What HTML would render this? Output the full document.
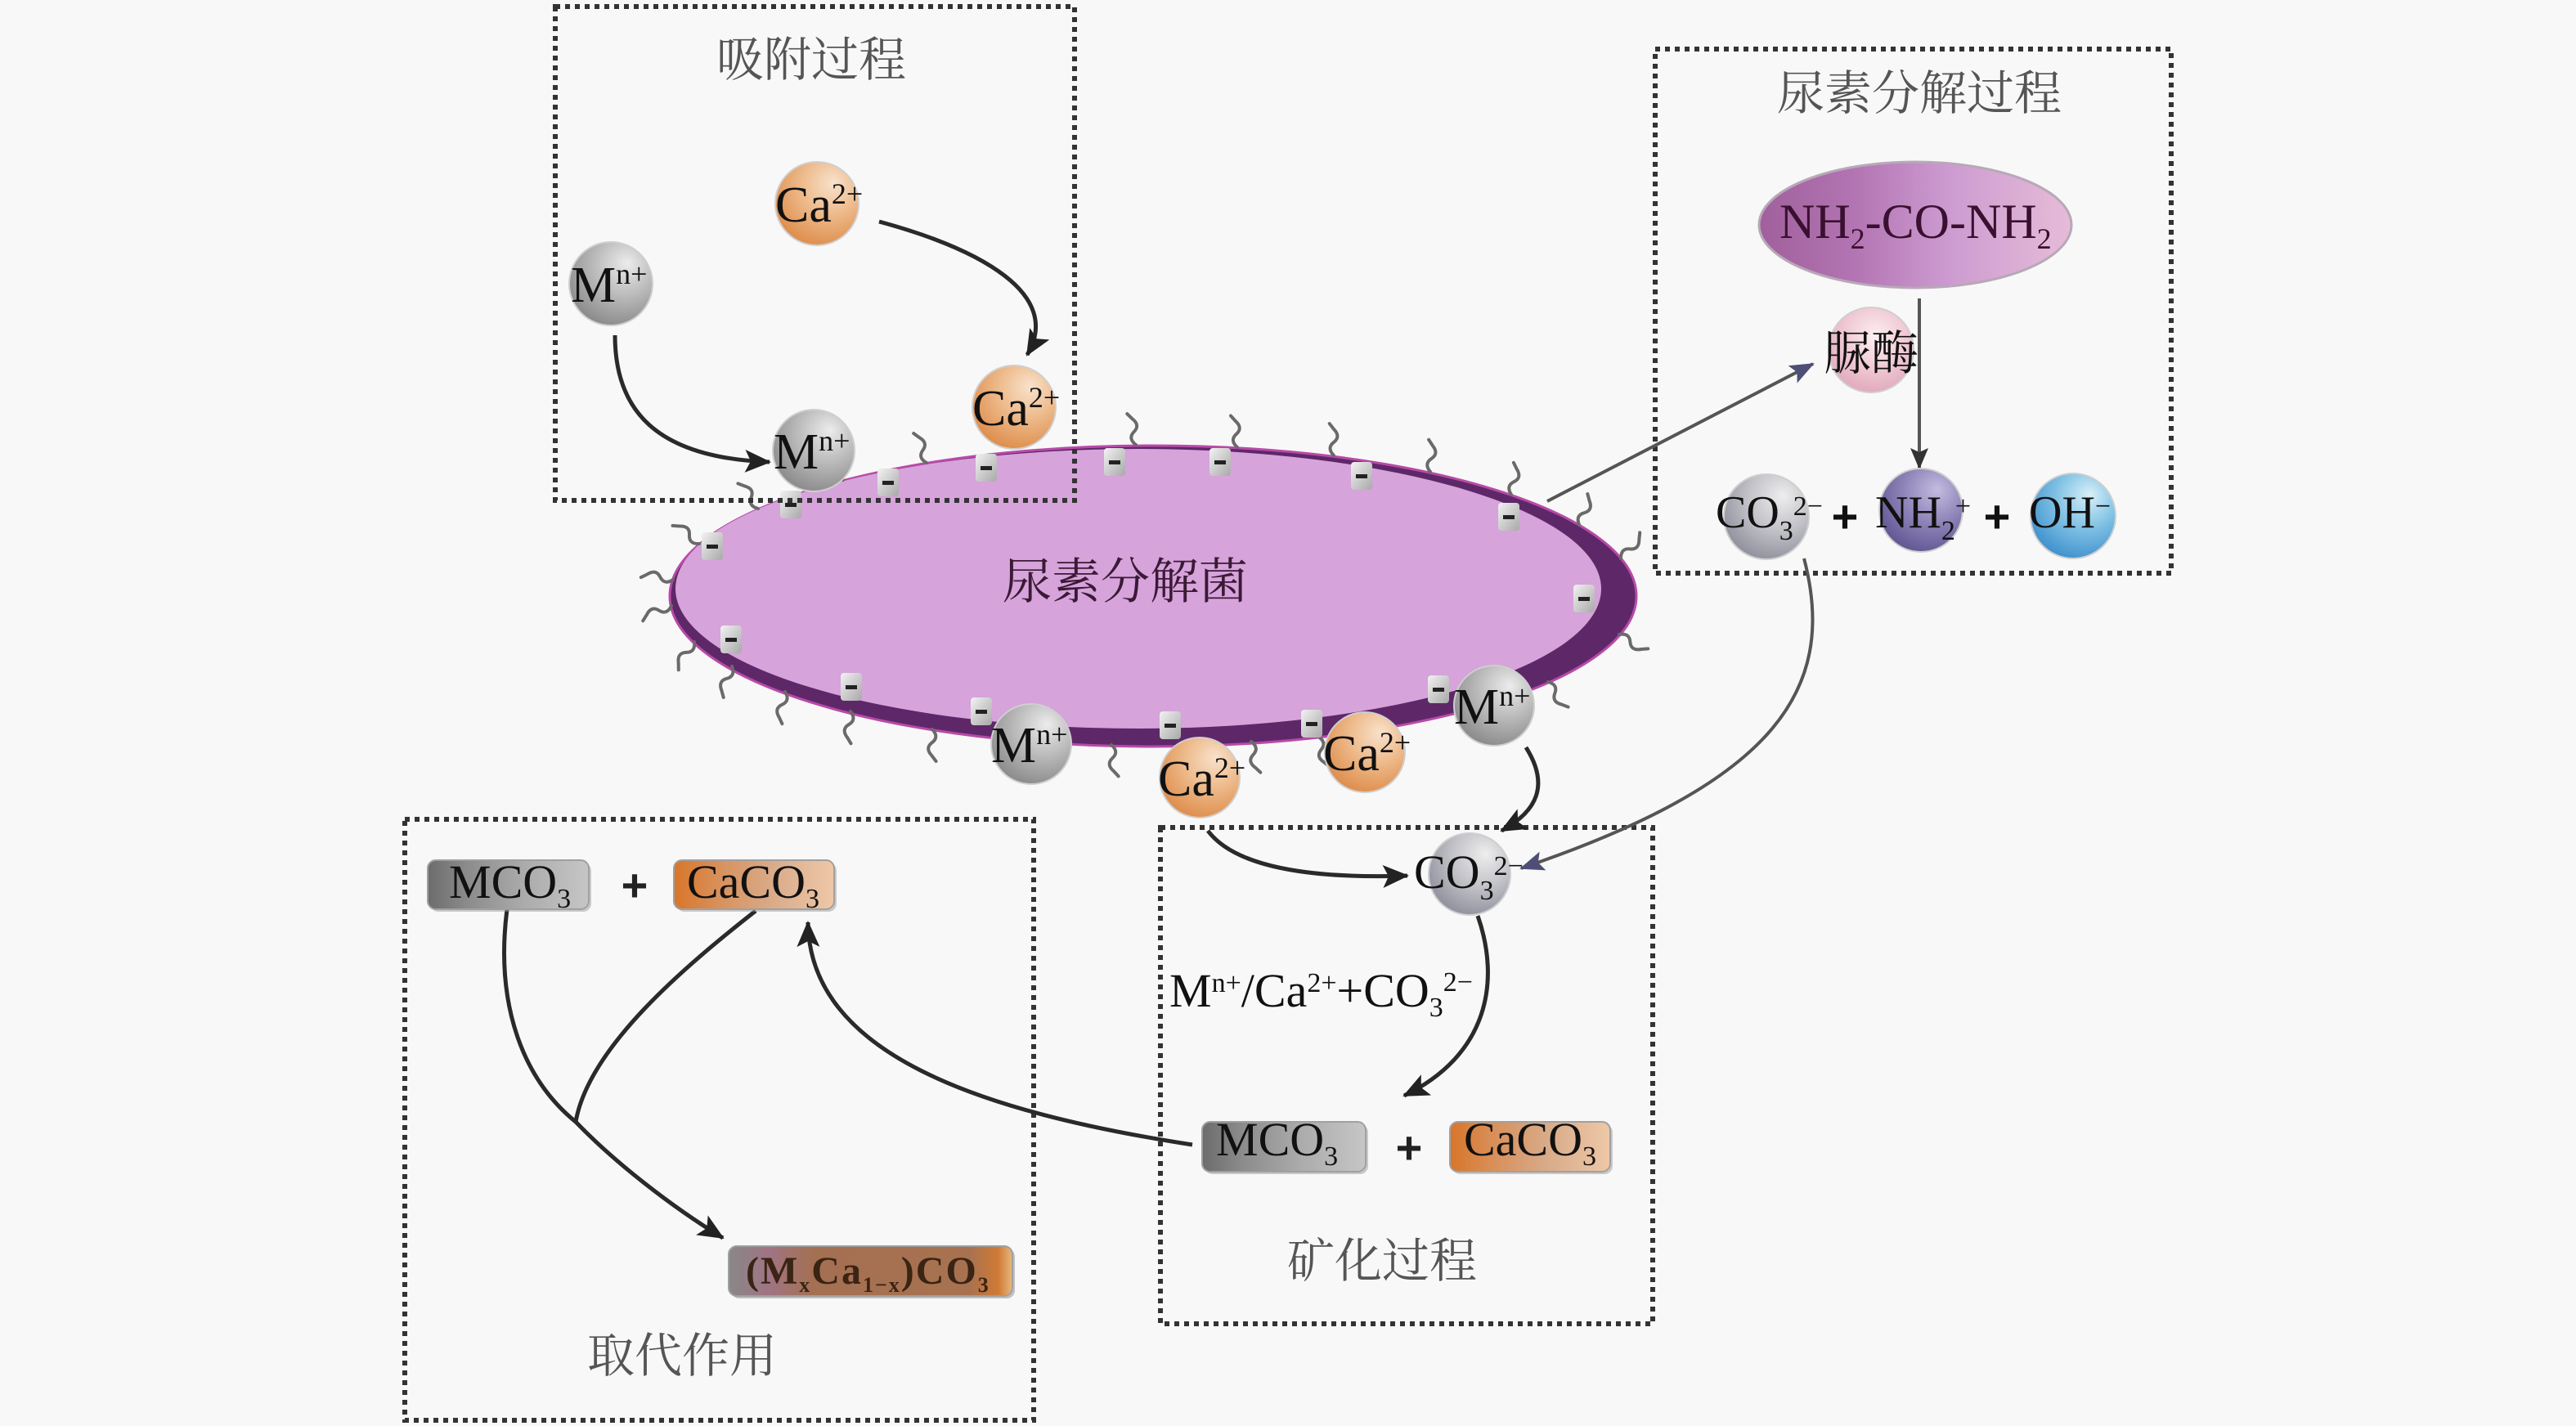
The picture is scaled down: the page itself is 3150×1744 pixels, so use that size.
<!DOCTYPE html>
<html><head><meta charset="utf-8"><style>
html,body{margin:0;padding:0;background:#f8f8f8;}
svg{display:block;}
.cjk{font-family:"Liberation Serif","Noto Serif CJK SC",serif;}
.lat{font-family:"Liberation Serif",serif;}
</style></head><body>
<svg width="3150" height="1744" viewBox="0 0 3150 1744" xmlns="http://www.w3.org/2000/svg">
<defs>
<radialGradient id="gM" cx="0.62" cy="0.32" r="0.75" fx="0.7" fy="0.25"><stop offset="0" stop-color="#ececec"/><stop offset="0.5" stop-color="#b9b9b9"/><stop offset="1" stop-color="#868686"/></radialGradient>
<radialGradient id="gCa" cx="0.62" cy="0.32" r="0.75" fx="0.7" fy="0.25"><stop offset="0" stop-color="#f8e2cc"/><stop offset="0.45" stop-color="#eebc8e"/><stop offset="1" stop-color="#dd8946"/></radialGradient>
<radialGradient id="gCO" cx="0.62" cy="0.32" r="0.75" fx="0.7" fy="0.25"><stop offset="0" stop-color="#eeeeee"/><stop offset="0.5" stop-color="#c2c2c8"/><stop offset="1" stop-color="#8c8c9a"/></radialGradient>
<radialGradient id="gNH" cx="0.62" cy="0.32" r="0.75" fx="0.7" fy="0.25"><stop offset="0" stop-color="#c4bce0"/><stop offset="0.5" stop-color="#8e84b8"/><stop offset="1" stop-color="#5e5290"/></radialGradient>
<radialGradient id="gOH" cx="0.62" cy="0.32" r="0.75" fx="0.7" fy="0.25"><stop offset="0" stop-color="#d8f0f8"/><stop offset="0.5" stop-color="#7ec0e4"/><stop offset="1" stop-color="#3a8ccc"/></radialGradient>
<radialGradient id="gUr" cx="0.55" cy="0.35" r="0.75"><stop offset="0" stop-color="#fbf0f2"/><stop offset="0.5" stop-color="#f0c8d4"/><stop offset="1" stop-color="#dca0b4"/></radialGradient>
<linearGradient id="gUrea" x1="0" y1="0" x2="1" y2="0"><stop offset="0" stop-color="#a0609c"/><stop offset="0.3" stop-color="#b274b2"/><stop offset="0.6" stop-color="#cc9ad0"/><stop offset="1" stop-color="#e6bcd8"/></linearGradient>
<linearGradient id="gMCO" x1="0" y1="0" x2="1" y2="0"><stop offset="0" stop-color="#6c6c6c"/><stop offset="0.25" stop-color="#8c8c8c"/><stop offset="0.6" stop-color="#ababab"/><stop offset="1" stop-color="#c6c6c6"/></linearGradient>
<linearGradient id="gCaCO" x1="0" y1="0" x2="1" y2="0"><stop offset="0" stop-color="#d8762a"/><stop offset="0.3" stop-color="#d8925e"/><stop offset="0.6" stop-color="#d8aa88"/><stop offset="1" stop-color="#eec8a8"/></linearGradient>
<linearGradient id="gMx" x1="0" y1="0" x2="1" y2="0"><stop offset="0" stop-color="#888888"/><stop offset="0.14" stop-color="#a07484"/><stop offset="0.3" stop-color="#a47052"/><stop offset="0.85" stop-color="#a87250"/><stop offset="0.95" stop-color="#d07a34"/><stop offset="1" stop-color="#e8b880"/></linearGradient>
<linearGradient id="gChg" x1="0" y1="0" x2="1" y2="1"><stop offset="0" stop-color="#f2f2f2"/><stop offset="1" stop-color="#a8a8a8"/></linearGradient>
<marker id="ab" markerUnits="userSpaceOnUse" markerWidth="40" markerHeight="32" refX="30" refY="14" orient="auto"><path d="M0 0 L32 14 L0 28 L7 14 Z" fill="#222"/></marker>
<marker id="ag" markerUnits="userSpaceOnUse" markerWidth="40" markerHeight="32" refX="28" refY="12" orient="auto"><path d="M0 0 L30 12 L0 24 L6 12 Z" fill="#4e4e76"/></marker>
<marker id="av" markerUnits="userSpaceOnUse" markerWidth="32" markerHeight="28" refX="24" refY="11" orient="auto"><path d="M0 0 L26 11 L0 22 L5 11 Z" fill="#333"/></marker>
</defs>

<rect width="3150" height="1744" fill="#f8f8f8"/>

<!-- Bacterium -->
<ellipse cx="1410" cy="729" rx="591" ry="184" fill="#5e2868" stroke="#b84aa8" stroke-width="3"/>
<ellipse cx="1392" cy="720" rx="566" ry="171" fill="#d6a3db"/>

<!-- hairs -->
<g fill="none" stroke="#6a6a6a" stroke-width="4" stroke-linecap="round">
<path transform="translate(823 709) rotate(-161)" d="M0 0 q8 -10 16 -2 t16 -2 l6 -6"/>
<path transform="translate(855 665) rotate(-131)" d="M0 0 q8 -10 16 -2 t16 -2 l6 -6"/>
<path transform="translate(927 622) rotate(-114)" d="M0 0 q8 -10 16 -2 t16 -2 l6 -6"/>
<path transform="translate(1031 587) rotate(-105)" d="M0 0 q8 -10 16 -2 t16 -2 l6 -6"/>
<path transform="translate(1133 566) rotate(-99)" d="M0 0 q8 -10 16 -2 t16 -2 l6 -6"/>
<path transform="translate(1389 544) rotate(-91)" d="M0 0 q8 -10 16 -2 t16 -2 l6 -6"/>
<path transform="translate(1513 547) rotate(-87)" d="M0 0 q8 -10 16 -2 t16 -2 l6 -6"/>
<path transform="translate(1631 557) rotate(-83)" d="M0 0 q8 -10 16 -2 t16 -2 l6 -6"/>
<path transform="translate(1749 577) rotate(-78)" d="M0 0 q8 -10 16 -2 t16 -2 l6 -6"/>
<path transform="translate(1848 605) rotate(-71)" d="M0 0 q8 -10 16 -2 t16 -2 l6 -6"/>
<path transform="translate(1931 642) rotate(-60)" d="M0 0 q8 -10 16 -2 t16 -2 l6 -6"/>
<path transform="translate(1982 683) rotate(-39)" d="M0 0 q8 -10 16 -2 t16 -2 l6 -6"/>
<path transform="translate(1980 776) rotate(41)" d="M0 0 q8 -10 16 -2 t16 -2 l6 -6"/>
<path transform="translate(1893 834) rotate(66)" d="M0 0 q8 -10 16 -2 t16 -2 l6 -6"/>
<path transform="translate(1612 901) rotate(84)" d="M0 0 q8 -10 16 -2 t16 -2 l6 -6"/>
<path transform="translate(1530 907) rotate(88)" d="M0 0 q8 -10 16 -2 t16 -2 l6 -6"/>
<path transform="translate(1359 911) rotate(92)" d="M0 0 q8 -10 16 -2 t16 -2 l6 -6"/>
<path transform="translate(1140 892) rotate(98)" d="M0 0 q8 -10 16 -2 t16 -2 l6 -6"/>
<path transform="translate(1040 870) rotate(104)" d="M0 0 q8 -10 16 -2 t16 -2 l6 -6"/>
<path transform="translate(960 846) rotate(110)" d="M0 0 q8 -10 16 -2 t16 -2 l6 -6"/>
<path transform="translate(895 815) rotate(120)" d="M0 0 q8 -10 16 -2 t16 -2 l6 -6"/>
<path transform="translate(849 785) rotate(134)" d="M0 0 q8 -10 16 -2 t16 -2 l6 -6"/>
<path transform="translate(821 741) rotate(167)" d="M0 0 q8 -10 16 -2 t16 -2 l6 -6"/>
</g>

<!-- negative charges -->
<g>
<g transform="translate(871 668)"><rect x="-13" y="-17" width="26" height="34" rx="4" fill="url(#gChg)"/><rect x="-7" y="-2" width="14" height="5" fill="#222"/></g>
<g transform="translate(894 782)"><rect x="-13" y="-17" width="26" height="34" rx="4" fill="url(#gChg)"/><rect x="-7" y="-2" width="14" height="5" fill="#222"/></g>
<g transform="translate(1041 840)"><rect x="-13" y="-17" width="26" height="34" rx="4" fill="url(#gChg)"/><rect x="-7" y="-2" width="14" height="5" fill="#222"/></g>
<g transform="translate(1200 870)"><rect x="-13" y="-17" width="26" height="34" rx="4" fill="url(#gChg)"/><rect x="-7" y="-2" width="14" height="5" fill="#222"/></g>
<g transform="translate(1431 887)"><rect x="-13" y="-17" width="26" height="34" rx="4" fill="url(#gChg)"/><rect x="-7" y="-2" width="14" height="5" fill="#222"/></g>
<g transform="translate(1604 885)"><rect x="-13" y="-17" width="26" height="34" rx="4" fill="url(#gChg)"/><rect x="-7" y="-2" width="14" height="5" fill="#222"/></g>
<g transform="translate(1759 843)"><rect x="-13" y="-17" width="26" height="34" rx="4" fill="url(#gChg)"/><rect x="-7" y="-2" width="14" height="5" fill="#222"/></g>
<g transform="translate(1937 732)"><rect x="-13" y="-17" width="26" height="34" rx="4" fill="url(#gChg)"/><rect x="-7" y="-2" width="14" height="5" fill="#222"/></g>
<g transform="translate(1845 632)"><rect x="-13" y="-17" width="26" height="34" rx="4" fill="url(#gChg)"/><rect x="-7" y="-2" width="14" height="5" fill="#222"/></g>
<g transform="translate(1665 582)"><rect x="-13" y="-17" width="26" height="34" rx="4" fill="url(#gChg)"/><rect x="-7" y="-2" width="14" height="5" fill="#222"/></g>
<g transform="translate(1492 565)"><rect x="-13" y="-17" width="26" height="34" rx="4" fill="url(#gChg)"/><rect x="-7" y="-2" width="14" height="5" fill="#222"/></g>
<g transform="translate(1363 565)"><rect x="-13" y="-17" width="26" height="34" rx="4" fill="url(#gChg)"/><rect x="-7" y="-2" width="14" height="5" fill="#222"/></g>
<g transform="translate(1206 572)"><rect x="-13" y="-17" width="26" height="34" rx="4" fill="url(#gChg)"/><rect x="-7" y="-2" width="14" height="5" fill="#222"/></g>
<g transform="translate(1086 590)"><rect x="-13" y="-17" width="26" height="34" rx="4" fill="url(#gChg)"/><rect x="-7" y="-2" width="14" height="5" fill="#222"/></g>
<g transform="translate(967 617)"><rect x="-13" y="-17" width="26" height="34" rx="4" fill="url(#gChg)"/><rect x="-7" y="-2" width="14" height="5" fill="#222"/></g>
</g>

<text class="cjk" x="1376" y="732" font-size="60" text-anchor="middle" fill="#3a1a35">尿素分解菌</text>

<!-- Dotted boxes -->
<g fill="none" stroke="#333" stroke-width="6" stroke-dasharray="6 6">
<rect x="679" y="8" width="635" height="604"/>
<rect x="2024" y="60" width="631" height="641"/>
<rect x="495" y="1002" width="769" height="735"/>
<rect x="1419" y="1012" width="602" height="607"/>
</g>

<!-- Titles -->
<g class="cjk" font-size="58" fill="#555" text-anchor="middle">
<text x="992" y="93">吸附过程</text>
<text x="2347" y="134">尿素分解过程</text>
<text x="1690" y="1562">矿化过程</text>
<text x="834" y="1678">取代作用</text>
</g>

<!-- Arrows -->
<g fill="none" stroke="#2a2a2a" stroke-width="5">
<path d="M1075 271 C1200 305 1300 360 1256 434" marker-end="url(#ab)"/>
<path d="M752 410 C752 500 800 560 941 565" marker-end="url(#ab)"/>
<path d="M1866 914 C1895 960 1880 992 1836 1016" marker-end="url(#ab)"/>
<path d="M1477 1016 C1510 1060 1600 1075 1721 1071" marker-end="url(#ab)"/>
<path d="M1807 1120 C1835 1200 1820 1290 1717 1340" marker-end="url(#ab)"/>
<path d="M1458 1400 C1200 1360 990 1290 988 1128" marker-end="url(#ab)"/>
<path d="M620 1112 C605 1230 640 1320 704 1372 C750 1420 820 1475 884 1514" marker-end="url(#ab)"/>
<path d="M924 1114 C840 1180 720 1280 704 1372"/>
</g>
<g fill="none" stroke="#555" stroke-width="4">
<path d="M1892 613 L2217 445" marker-end="url(#ag)"/>
<path d="M2206 683 C2250 850 2160 960 1860 1062" marker-end="url(#ag)"/>
<path d="M2347 365 L2347 572" marker-end="url(#av)"/>
</g>

<!-- Balls: adsorption -->
<g stroke="#cfcfcf" stroke-width="2">
<circle cx="999" cy="249" r="51" fill="url(#gCa)"/>
<circle cx="747" cy="347" r="51" fill="url(#gM)"/>
<circle cx="1240" cy="498" r="51" fill="url(#gCa)"/>
<circle cx="995" cy="551" r="50" fill="url(#gM)"/>
<circle cx="1261" cy="910" r="49" fill="url(#gM)"/>
<circle cx="1467" cy="951" r="49" fill="url(#gCa)"/>
<circle cx="1669" cy="920" r="49" fill="url(#gCa)"/>
<circle cx="1827" cy="863" r="49" fill="url(#gM)"/>
<circle cx="1797" cy="1069" r="50" fill="url(#gCO)"/>
<circle cx="2288" cy="428" r="52" fill="url(#gUr)"/>
<circle cx="2160" cy="632" r="52" fill="url(#gCO)"/>
<circle cx="2349" cy="624" r="51" fill="url(#gNH)"/>
<circle cx="2535" cy="631" r="52" fill="url(#gOH)"/>
</g>

<g class="lat" font-size="62" fill="#111">
<text x="948" y="271">Ca<tspan font-size="36" dy="-22">2+</tspan></text>
<text x="698" y="369">M<tspan font-size="36" dy="-22">n+</tspan></text>
<text x="1189" y="520">Ca<tspan font-size="36" dy="-22">2+</tspan></text>
<text x="946" y="573">M<tspan font-size="36" dy="-22">n+</tspan></text>
<text x="1212" y="932">M<tspan font-size="36" dy="-22">n+</tspan></text>
<text x="1416" y="973">Ca<tspan font-size="36" dy="-22">2+</tspan></text>
<text x="1618" y="942">Ca<tspan font-size="36" dy="-22">2+</tspan></text>
<text x="1778" y="885">M<tspan font-size="36" dy="-22">n+</tspan></text>
</g>

<!-- CO3 in mineralization -->
<text class="lat" x="1729" y="1086" font-size="58" fill="#111">CO<tspan font-size="34" dy="14">3</tspan><tspan font-size="34" dy="-30">2−</tspan></text>

<!-- Urea part -->
<ellipse cx="2342" cy="275" rx="191" ry="77" fill="url(#gUrea)" stroke="#b8a8b8" stroke-width="3"/>
<text class="lat" x="2176" y="291" font-size="60" fill="#3a1030">NH<tspan font-size="36" dy="13">2</tspan><tspan dy="-13">-CO-NH</tspan><tspan font-size="36" dy="13">2</tspan></text>
<text class="cjk" x="2288" y="452" font-size="58" fill="#111" text-anchor="middle">脲酶</text>

<g class="lat" font-size="56" fill="#111">
<text x="2098" y="645">CO<tspan font-size="34" dy="15">3</tspan><tspan font-size="34" dy="-30">2−</tspan></text>
<text x="2293" y="645">NH<tspan font-size="34" dy="15">2</tspan><tspan font-size="34" dy="-30">+</tspan></text>
<text x="2481" y="645">OH<tspan font-size="34" dy="-15">−</tspan></text>
</g>
<g font-family="Liberation Sans, sans-serif" font-weight="bold" font-size="56" fill="#111" text-anchor="middle">
<text x="2256" y="651">+</text>
<text x="2442" y="651">+</text>
</g>

<!-- Mineralization text -->
<text class="lat" x="1430" y="1231" font-size="58" fill="#111">M<tspan font-size="34" dy="-18">n+</tspan><tspan dy="18">/Ca</tspan><tspan font-size="34" dy="-18">2+</tspan><tspan dy="18">+CO</tspan><tspan font-size="34" dy="12">3</tspan><tspan font-size="34" dy="-31">2−</tspan></text>

<!-- Product boxes -->
<g stroke="#a0a0a0" stroke-width="2">
<rect x="1473" y="1375" width="200" height="61" rx="10" fill="#999" stroke="none" opacity="0.5"/>
<rect x="1470" y="1372" width="200" height="61" rx="10" fill="url(#gMCO)"/>
<rect x="1776" y="1375" width="196" height="61" rx="10" fill="#999" stroke="none" opacity="0.5"/>
<rect x="1773" y="1372" width="196" height="61" rx="10" fill="url(#gCaCO)"/>
<rect x="526" y="1055" width="197" height="60" rx="10" fill="#999" stroke="none" opacity="0.5"/>
<rect x="523" y="1052" width="197" height="60" rx="10" fill="url(#gMCO)"/>
<rect x="827" y="1055" width="196" height="60" rx="10" fill="#999" stroke="none" opacity="0.5"/>
<rect x="824" y="1052" width="196" height="60" rx="10" fill="url(#gCaCO)"/>
<rect x="894" y="1527" width="347" height="61" rx="10" fill="#888" stroke="none" opacity="0.5"/>
<rect x="891" y="1524" width="347" height="61" rx="10" fill="url(#gMx)"/>
</g>
<g class="lat" font-size="58" fill="#111">
<text x="1487" y="1413">MCO<tspan font-size="34" dy="12">3</tspan></text>
<text x="1790" y="1413">CaCO<tspan font-size="34" dy="12">3</tspan></text>
<text x="549" y="1098">MCO<tspan font-size="34" dy="12">3</tspan></text>
<text x="840" y="1098">CaCO<tspan font-size="34" dy="12">3</tspan></text>
</g>
<g font-family="Liberation Sans, sans-serif" font-weight="bold" font-size="56" fill="#222" text-anchor="middle">
<text x="1723" y="1423">+</text>
<text x="776" y="1102">+</text>
</g>
<text class="lat" x="912" y="1570" font-size="48" font-weight="bold" fill="#3a2414" letter-spacing="2">(M<tspan font-size="26" dy="10">x</tspan><tspan dy="-10">Ca</tspan><tspan font-size="26" dy="10">1−x</tspan><tspan dy="-10">)CO</tspan><tspan font-size="26" dy="10">3</tspan></text>

</svg>
</body></html>
